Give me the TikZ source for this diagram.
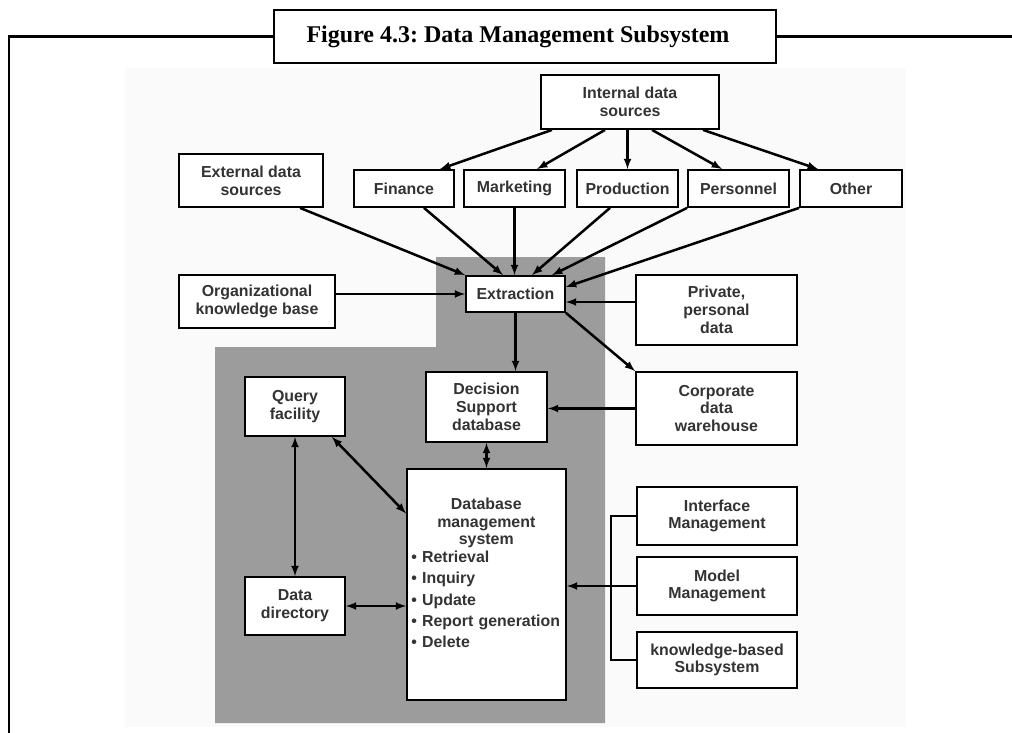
\documentclass[tikz,border=0pt]{standalone}
\usepackage{fontspec}
\setmainfont{Liberation Sans}
\newfontfamily\titlefont{Liberation Serif}
\usetikzlibrary{calc}
\usetikzlibrary{arrows}
\usetikzlibrary{positioning}

\tikzset{
  dmbox/.style={rectangle, draw=black, fill=white, line width=1.8pt, align=center,
    inner sep=0pt, text=black!80, font=\fontsize{15.9}{17.7}\selectfont\bfseries},
  dbtext/.style={inner sep=0pt, text width=150pt, text=black!80,
    font=\fontsize{15.9}{17.7}\selectfont\bfseries},
  titlebox/.style={rectangle, draw=black, fill=white, line width=2pt,
    minimum width=501.5pt, minimum height=53pt, inner sep=0pt,
    font={\titlefont\bfseries\fontsize{24}{28}\selectfont\frenchspacing}},
  flow/.style={-latex, line width=2.5pt, draw=black},
  both/.style={latex-latex, line width=2.5pt, draw=black},
}

\begin{document}
\begin{tikzpicture}[x=1pt, y=-1pt]
\useasboundingbox (0,0) rectangle (1012,733);
% backgrounds
\fill [black!2] (125,68) rectangle (906,727);
\fill [black!39] (215,347) -- (436,347) -- (436,257) -- (605,257) -- (605,723) -- (215,723) -- cycle;

% frame and title
\coordinate (framel) at (9,733);
\coordinate (framer) at (1012,36.5);
\draw [line width=2.4pt] (525,36.5) -| (framel);
\draw [line width=2.4pt] (525,36.5) -- (framer);
\node [titlebox] (title) at (525,36.5) {Figure 4.3: Data Management Subsystem\hspace*{14pt}};

% sources
\node [dmbox, minimum width=178pt, minimum height=54pt] (internal) at (630,102) {Internal data\\sources};
\node [dmbox, minimum width=144pt, minimum height=53pt] (external) at (251,180.5) {External data\\sources};
\node [dmbox, minimum width=100pt, minimum height=37pt] (finance) at (404,188.5) {Finance};
\node [dmbox, minimum width=101pt, minimum height=37pt] (marketing) at (514.5,188.5) {Marketing};
\node [dmbox, minimum width=101pt, minimum height=37pt] (production) at (627.5,188.5) {Production};
\node [dmbox, minimum width=101pt, minimum height=37pt] (personnel) at (738.5,188.5) {Personnel};
\node [dmbox, minimum width=102pt, minimum height=37pt] (other) at (851,188.5) {Other};
\node [dmbox, minimum width=156pt, minimum height=53pt] (orgkb) at (257,301.5) {Organizational\\knowledge base};
\node [dmbox, minimum width=99pt, minimum height=36pt] (extraction) at (515.5,294) {Extraction};
\node [dmbox, minimum width=161pt, minimum height=70pt] (private) at (716.5,310) {Private,\\personal\\data};
\node [dmbox, minimum width=161pt, minimum height=73pt] (corporate) at (716.5,408.5) {Corporate\\data\\warehouse};

% inside the dss
\node [dmbox, minimum width=100pt, minimum height=59pt] (query) at (295,406.5) {Query\\facility};
\node [dmbox, minimum width=121pt, minimum height=70pt] (dsd) at (486.5,407) {Decision\\Support\\database};
\node [dmbox, minimum width=159pt, minimum height=231pt] (dbms) at (486.5,584.5) {};
\node [dbtext, anchor=north west] (dbmstext) at ([xshift=5pt, yshift=-29.5pt]dbms.north west)
  {{\centering Database\\management\\system\par}\raggedright
   \textbullet\ Retrieval\\[3.6pt]
   \textbullet\ Inquiry\\[3.6pt]
   \textbullet\ Update\\[3.6pt]
   \textbullet\ Report generation\\[3.6pt]
   \textbullet\ Delete};
\node [dmbox, minimum width=100pt, minimum height=58pt] (datadir) at (295,606) {Data\\directory};

% other subsystems
\node [dmbox, minimum width=160pt, minimum height=58pt] (interface) at (717,516) {Interface\\Management};
\node [dmbox, minimum width=160pt, minimum height=58pt] (model) at (717,586) {Model\\Management};
\node [dmbox, minimum width=160pt, minimum height=56pt] (kbs) at (717,660) {knowledge-based\\Subsystem};

% internal data fan
\draw [flow] ([xshift=-78pt]internal.south) to ([xshift=36pt]finance.north);
\draw [flow] ([xshift=-25pt]internal.south) to ([xshift=22.5pt]marketing.north);
\draw [flow] (production.north |- internal.south) to (production.north);
\draw [flow] ([xshift=22pt]internal.south) to ([xshift=-16.5pt]personnel.north);
\draw [flow] ([xshift=73pt]internal.south) to ([xshift=-33pt]other.north);

% into extraction
\draw [flow] ([xshift=49pt]external.south) to (extraction.north west);
\draw [flow] ([xshift=20pt]finance.south) to ([xshift=-12.5pt]extraction.north);
\draw [flow] (marketing.south) to (marketing.south |- extraction.north);
\draw [flow] ([xshift=-17.5pt]production.south) to ([xshift=16.5pt]extraction.north);
\draw [flow] (personnel.south west) to ([xshift=36.5pt]extraction.north);
\draw [flow] (other.south west) to ([yshift=7pt]extraction.east);
\draw [flow] ([yshift=8pt]private.west) to ([yshift=-8pt]extraction.east);
\draw [flow] (orgkb.east |- extraction.west) to (extraction.west);

% out of extraction
\draw [flow] (extraction.south) to (extraction.south |- dsd.north);
\draw [flow] (extraction.south east) to (corporate.north west);
\draw [flow] (corporate.west) to (corporate.west -| dsd.east);

% dbms links
\draw [both] (dsd.south) to (dbms.north);
\draw [both] (query.south) to (datadir.north);
\draw [both] ([xshift=-14pt]query.south east) to ([yshift=71pt]dbms.west);
\draw [both] (datadir.east) to (datadir.east -| dbms.west);

% subsystems bracket
\draw [line width=1.8pt] (interface.west) -- ++(-25,0) |- (kbs.west);
\draw [flow] (model.west) to (model.west -| dbms.east);
\end{tikzpicture}
\end{document}
